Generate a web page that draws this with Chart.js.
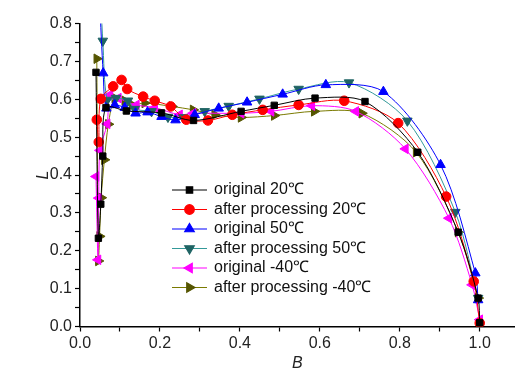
<!DOCTYPE html>
<html>
<head>
<meta charset="utf-8">
<script src="https://cdn.jsdelivr.net/npm/chart.js@4"></script>
<style>
  html, body { margin: 0; padding: 0; background: #fff; }
  #wrap { width: 521px; height: 373px; position: relative; }
</style>
</head>
<body>
<div id="wrap"><canvas id="myChart"></canvas></div>
<script>
// series values (B on x, L on y)
var names = ['original 20℃', 'after processing 20℃', 'original 50℃',
             'after processing 50℃', 'original -40℃', 'after processing -40℃'];

var b_o20 = [0.040,0.046,0.052,0.057,0.065,0.116,0.204,0.284,0.403,0.486,0.588,0.713,0.845,0.946,0.996,1.000];
var l_o20 = [0.671,0.233,0.323,0.450,0.578,0.569,0.564,0.544,0.568,0.584,0.603,0.594,0.460,0.249,0.075,0.010];

var b_p20 = [0.042,0.047,0.052,0.083,0.104,0.118,0.158,0.187,0.227,0.266,0.320,0.381,0.457,0.547,0.661,0.796,0.916,0.985,1.000];
var l_p20 = [0.546,0.487,0.601,0.634,0.651,0.627,0.607,0.596,0.581,0.546,0.544,0.559,0.572,0.585,0.596,0.537,0.343,0.119,0.009];

var b_o50 = [0.049,0.058,0.066,0.087,0.112,0.139,0.169,0.204,0.239,0.287,0.347,0.418,0.507,0.615,0.759,0.902,0.989,0.996];
var l_o50 = [0.860,0.669,0.576,0.585,0.578,0.563,0.566,0.554,0.545,0.559,0.576,0.592,0.613,0.638,0.620,0.427,0.141,0.070];

var b_p50 = [0.053,0.057,0.068,0.090,0.120,0.137,0.179,0.220,0.258,0.312,0.372,0.449,0.547,0.673,0.819,0.939,0.996];
var l_p50 = [0.840,0.754,0.598,0.603,0.596,0.574,0.568,0.553,0.552,0.568,0.582,0.601,0.627,0.644,0.543,0.302,0.075];

var b_o40 = [0.040,0.045,0.047,0.050,0.068,0.075,0.096,0.141,0.187,0.249,0.283,0.403,0.478,0.580,0.690,0.814,0.923,0.981,1.000];
var l_o40 = [0.396,0.176,0.339,0.465,0.535,0.612,0.603,0.585,0.578,0.559,0.563,0.563,0.568,0.583,0.568,0.469,0.286,0.110,0.018];

var b_p40 = [0.042,0.046,0.049,0.053,0.061,0.071,0.087,0.112,0.131,0.162,0.230,0.283,0.337,0.403,0.486,0.586,0.705,0.841,0.946,0.996];
var l_p40 = [0.707,0.173,0.238,0.340,0.440,0.534,0.603,0.596,0.585,0.590,0.581,0.572,0.559,0.552,0.557,0.568,0.563,0.460,0.249,0.075];

var xTicks = [0.0, 0.2, 0.4, 0.6, 0.8, 1.0];
var yTicks = [0.0, 0.1, 0.2, 0.3, 0.4, 0.5, 0.6, 0.7, 0.8];

function pts(bs, ls) {
  return bs.map(function (b, i) { return { x: b, y: ls[i] }; });
}

function series(i, bs, ls, line, fill, style, rot, r) {
  return {
    label: names[i],
    data: pts(bs, ls),
    borderColor: line,
    backgroundColor: fill,
    pointBorderColor: fill,
    pointBackgroundColor: fill,
    pointStyle: style,
    rotation: rot,
    pointRadius: r,
    borderWidth: 1,
    tension: 0.3
  };
}

var datasets = [
  series(0, b_o20, l_o20, '#000000', '#000000', 'rect', 0, 4.5),
  series(1, b_p20, l_p20, '#ff0000', '#ff0000', 'circle', 0, 4.8),
  series(2, b_o50, l_o50, '#0000ff', '#0000ff', 'triangle', 0, 5.5),
  series(3, b_p50, l_p50, '#339999', '#1f6464', 'triangle', 180, 5.5),
  series(4, b_o40, l_o40, '#ff00ff', '#ff00ff', 'triangle', 270, 5.5),
  series(5, b_p40, l_p40, '#7a7a00', '#555500', 'triangle', 90, 5.5)
];

// legend: line with marker in the middle, drawn inside the plot
var lineLegend = {
  id: 'lineLegend',
  afterDraw: function (chart) {
    var ctx = chart.ctx;
    var x0 = 172, x1 = 207, y0 = 190, dy = 19.5;
    ctx.save();
    ctx.font = '16px "Liberation Sans", Arial, sans-serif';
    ctx.textBaseline = 'middle';
    chart.data.datasets.forEach(function (ds, i) {
      var y = y0 + i * dy;
      ctx.strokeStyle = ds.borderColor;
      ctx.lineWidth = 1.2;
      ctx.beginPath();
      ctx.moveTo(x0, y);
      ctx.lineTo(x1, y);
      ctx.stroke();
      ctx.fillStyle = ds.pointBackgroundColor;
      ctx.strokeStyle = ds.pointBorderColor;
      Chart.helpers.drawPoint(ctx, {
        pointStyle: ds.pointStyle, rotation: ds.rotation,
        radius: ds.pointRadius, borderWidth: 1
      }, (x0 + x1) / 2, y);
      ctx.fillStyle = '#111';
      ctx.fillText(ds.label, 214, y);
    });
    ctx.restore();
  }
};

var ctx = document.getElementById('myChart').getContext('2d');
var myChart = new Chart(ctx, {
  type: 'line',
  data: { datasets: datasets },
  plugins: [lineLegend],
  options: {
    responsive: true,
    maintainAspectRatio: false,
    animation: false,
    layout: { padding: { top: 23.5, right: 0, left: 0, bottom: 0 } },
    plugins: { legend: { display: false }, tooltip: { enabled: false } },
    scales: {
      x: {
        type: 'linear',
        min: 0, max: 1.087,
        afterFit: function (s) { s.height = 46.5; },
        afterBuildTicks: function (s) {
          var t = [];
          for (var k = 0; k <= 10; k++) t.push({ value: k / 10 });
          s.ticks = t;
        },
        border: { color: '#000', width: 1.5 },
        grid: { drawOnChartArea: false, drawTicks: true, tickLength: 5, tickColor: '#000', tickWidth: 1.2 },
        ticks: {
          color: '#222', padding: 2,
          font: { family: '"Liberation Sans", Arial, sans-serif', size: 16 },
          maxRotation: 0, autoSkip: false,
          callback: function (v) {
            var hit = xTicks.filter(function (t) { return Math.abs(t - v) < 1e-6; });
            return hit.length ? hit[0].toFixed(1) : '';
          }
        },
        title: {
          display: true, text: 'B', color: '#222',
          font: { family: '"Liberation Sans", Arial, sans-serif', size: 16, style: 'italic' },
          padding: { top: 0, bottom: 0 }
        }
      },
      y: {
        min: 0, max: 0.8,
        afterFit: function (s) { s.width = 80; },
        afterBuildTicks: function (s) {
          var t = [];
          for (var k = 0; k <= 16; k++) t.push({ value: k / 20 });
          s.ticks = t;
        },
        border: { color: '#000', width: 1.5 },
        grid: { drawOnChartArea: false, drawTicks: true, tickLength: 5, tickColor: '#000', tickWidth: 1.2 },
        ticks: {
          color: '#222', padding: 3,
          font: { family: '"Liberation Sans", Arial, sans-serif', size: 16 },
          autoSkip: false,
          callback: function (v) {
            var hit = yTicks.filter(function (t) { return Math.abs(t - v) < 1e-6; });
            return hit.length ? hit[0].toFixed(1) : '';
          }
        },
        title: {
          display: true, text: 'L', color: '#222',
          font: { family: '"Liberation Sans", Arial, sans-serif', size: 16, style: 'italic' },
          padding: { top: 34, bottom: 0 }
        }
      }
    }
  }
});
</script>
</body>
</html>
